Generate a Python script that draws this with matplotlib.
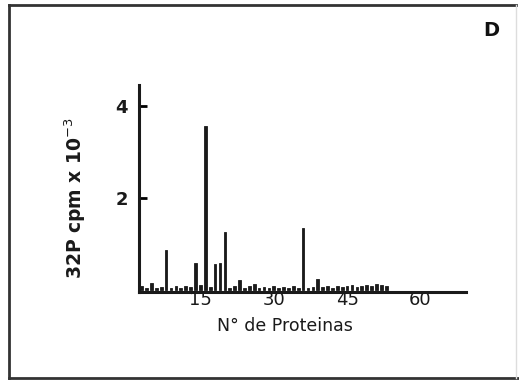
import matplotlib
matplotlib.use("Agg")
import matplotlib.pyplot as plt
from matplotlib.lines import Line2D

proteins = list(range(3, 54))
cpm = [0.08, 0.04, 0.16, 0.04, 0.06, 0.87, 0.04, 0.08, 0.05, 0.08,
       0.06, 0.58, 0.10, 3.55, 0.06, 0.56, 0.58, 1.25, 0.05, 0.08,
       0.22, 0.04, 0.08, 0.12, 0.05, 0.06, 0.04, 0.08, 0.05, 0.06,
       0.04, 0.08, 0.05, 1.34, 0.04, 0.06, 0.24, 0.06, 0.08, 0.05,
       0.08, 0.06, 0.08, 0.10, 0.06, 0.08, 0.10, 0.08, 0.12, 0.10,
       0.08]
xticks = [15, 30, 45, 60]
yticks = [2, 4]

W, H = 519, 383
fig = plt.figure(figsize=(W / 100, H / 100), dpi=100)
fig.patch.set_facecolor("white")

ax = fig.add_axes([139 / W, 1 - 292.3 / H, (466 - 139) / W, (292.3 - 85) / H])
ax.bar(proteins, cpm, width=0.55, color="#1a1a1a", edgecolor="#1a1a1a", linewidth=0.6)
ax.set_xlim(2.45, 69.3)
ax.set_ylim(-0.05, 4.45)
for s in ["top", "right"]:
    ax.spines[s].set_visible(False)
for s in ["left", "bottom"]:
    ax.spines[s].set_linewidth(2.2)
    ax.spines[s].set_color("#1a1a1a")
ax.set_xticks(xticks)
ax.set_xticklabels([str(v) for v in xticks], fontsize=13, color="#1a1a1a")
ax.set_yticks(yticks)
ax.set_yticklabels([str(v) for v in yticks], fontsize=13, fontweight="bold", color="#1a1a1a")
ax.tick_params(axis="x", length=0, pad=-1)
ax.tick_params(axis="y", direction="in", length=6, width=2, pad=8)

fig.text(285 / W, 1 - 326 / H, "N° de Proteinas", ha="center", va="center",
         fontsize=12.5, color="#1a1a1a")
fig.text(75 / W, 1 - 198 / H, r"32P cpm x 10$^{-3}$", ha="center", va="center",
         rotation=90, fontsize=13.5, fontweight="bold", color="#1a1a1a")
fig.text(491 / W, 1 - 31 / H, "D", ha="center", va="center",
         fontsize=14, fontweight="bold", color="#111111")

# frame around the panel
fig.add_artist(Line2D([9 / W, 9 / W], [1 - 5 / H, 1 - 378 / H], transform=fig.transFigure,
                      color="#333333", lw=2))
fig.add_artist(Line2D([9 / W, 516 / W], [1 - 5 / H, 1 - 5 / H], transform=fig.transFigure,
                      color="#333333", lw=2))
fig.add_artist(Line2D([9 / W, 519 / W], [1 - 378 / H, 1 - 378 / H], transform=fig.transFigure,
                      color="#333333", lw=2))
fig.add_artist(Line2D([516 / W, 516 / W], [1 - 5 / H, 1 - 378 / H], transform=fig.transFigure,
                      color="#dddddd", lw=1))

fig.savefig("out.png", dpi=100)
